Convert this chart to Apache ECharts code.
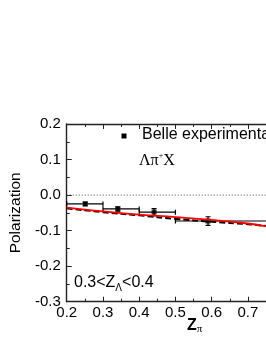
<!DOCTYPE html>
<html><head><meta charset="utf-8">
<script src="https://cdn.jsdelivr.net/npm/echarts@6/dist/echarts.min.js"></script>
<style>html,body{margin:0;padding:0;background:#fff}#c{width:266px;height:344px}</style>
</head><body><div id="c"></div>
<script>
// ---- data ----
const xTicks = [0.2, 0.3, 0.4, 0.5, 0.6, 0.7];
const yTicks = [-0.3, -0.2, -0.1, 0.0, 0.1, 0.2];
const belleX = [0.251, 0.341, 0.441, 0.59];
const belleY = [-0.025, -0.039, -0.048, -0.073];
const belleXLo = [0.2, 0.3, 0.4, 0.5];
const belleXHi = [0.3, 0.4, 0.5, 0.8];
const belleYErr = [0.005, 0.006, 0.010, 0.012];
const curveX = [0.2, 0.3, 0.4, 0.5, 0.6, 0.7, 0.75];
const redY = [-0.035, -0.046, -0.055, -0.062, -0.070, -0.080, -0.088];
const dashY = [-0.037, -0.048, -0.057, -0.067, -0.075, -0.082, -0.087];
const zeroX = [0.2, 0.75];
const zeroY = [0, 0];

const FONT = '"Liberation Sans", Arial, sans-serif';
const SERIF = '"Liberation Serif", "Times New Roman", serif';
const AX = '#222';

const chart = echarts.init(document.getElementById('c'), null, {renderer: 'canvas'});

const errData = belleX.map((x, i) => [x, belleY[i], belleXLo[i], belleXHi[i], belleYErr[i]]);
const pts = belleX.map((x, i) => [x, belleY[i]]);
const red = curveX.map((x, i) => [x, redY[i]]);
const dash = curveX.map((x, i) => [x, dashY[i]]);
const zero = zeroX.map((x, i) => [x, zeroY[i]]);

function renderErr(params, api) {
  const x = api.value(0), y = api.value(1), xl = api.value(2), xh = api.value(3), ye = api.value(4);
  const c = api.coord([x, y]);
  const pl = api.coord([xl, y]);
  const ph = api.coord([xh, y]);
  const yl = api.coord([x, y - ye]);
  const yh = api.coord([x, y + ye]);
  const cap = 2.5;
  const st = {stroke: '#000', lineWidth: 1.2};
  return {type: 'group', children: [
    {type: 'line', shape: {x1: pl[0], y1: c[1], x2: ph[0], y2: c[1]}, style: st},
    {type: 'line', shape: {x1: pl[0], y1: c[1] - cap, x2: pl[0], y2: c[1] + cap}, style: st},
    {type: 'line', shape: {x1: ph[0], y1: c[1] - cap, x2: ph[0], y2: c[1] + cap}, style: st},
    {type: 'line', shape: {x1: c[0], y1: yl[1], x2: c[0], y2: yh[1]}, style: st},
    {type: 'line', shape: {x1: c[0] - cap, y1: yl[1], x2: c[0] + cap, y2: yl[1]}, style: st},
    {type: 'line', shape: {x1: c[0] - cap, y1: yh[1], x2: c[0] + cap, y2: yh[1]}, style: st}
  ]};
}

const fmt = v => (Math.abs(v) < 1e-9 ? '0.0' : v.toFixed(1));
const axisCommon = {
  type: 'value',
  axisLine: {show: true, onZero: false, lineStyle: {color: AX, width: 1.4}},
  axisTick: {show: true, inside: true, length: 5, lineStyle: {color: AX, width: 1}},
  minorTick: {show: true, splitNumber: 2, length: 3, lineStyle: {color: AX, width: 1}},
  splitLine: {show: false},
  minorSplitLine: {show: false}
};

chart.setOption({
  animation: false,
  backgroundColor: '#fff',
  grid: {left: 64, top: 124, width: 204, height: 177.7, containLabel: false},
  xAxis: [
    Object.assign({}, axisCommon, {
      min: xTicks[0], max: 0.75, interval: 0.1, position: 'bottom',
      axisLabel: {fontSize: 15, color: '#000', fontFamily: FONT, margin: 4,
        formatter: fmt, showMaxLabel: false}
    }),
    Object.assign({}, axisCommon, {
      min: xTicks[0], max: 0.75, interval: 0.1, position: 'top',
      axisLabel: {show: false}
    })
  ],
  yAxis: [
    Object.assign({}, axisCommon, {
      min: yTicks[0], max: yTicks[yTicks.length - 1], interval: 0.1, position: 'left',
      axisLabel: {fontSize: 15, color: '#000', fontFamily: FONT, margin: 6, formatter: fmt},
      name: 'Polarization', nameLocation: 'middle', nameGap: 31,
      nameTextStyle: {fontSize: 15.5, color: '#000', fontFamily: FONT}
    })
  ],
  series: [
    {type: 'line', data: zero, symbol: 'none', silent: true,
      lineStyle: {color: '#444', width: 1, type: [1, 2]}},
    {type: 'line', data: dash, symbol: 'none', smooth: true, silent: true,
      lineStyle: {color: '#000', width: 2, type: [6, 3]}},
    {type: 'line', data: red, symbol: 'none', smooth: true, silent: true,
      lineStyle: {color: '#ff0000', width: 1.8}},
    {type: 'custom', data: errData, renderItem: renderErr, clip: true, silent: true},
    {name: 'Belle experimental data', type: 'scatter', data: pts, symbol: 'rect', symbolSize: 5,
      itemStyle: {color: '#000'}, silent: true}
  ],
  graphic: [
    {type: 'rect', shape: {x: 121.5, y: 133.5, width: 5, height: 5}, style: {fill: '#000'}},
    {type: 'text', left: 142, top: 127, style: {text: 'Belle experimental data',
      font: '16px ' + FONT, fill: '#000'}},
    {type: 'text', left: 139, top: 152, style: {
      text: '{a|Λπ}{s|+}{a|X}',
      rich: {
        a: {fontSize: 16, fontFamily: SERIF, lineHeight: 18, fill: '#000'},
        s: {fontSize: 8, fontFamily: SERIF, lineHeight: 10, verticalAlign: 'top', fill: '#000'}
      }}},
    {type: 'text', left: 74, top: 275, style: {
      text: '{a|0.3<Z}{b|Λ}{a|<0.4}',
      rich: {
        a: {fontSize: 16, fontFamily: FONT, lineHeight: 20, fill: '#000'},
        b: {fontSize: 10, fontFamily: FONT, lineHeight: 10, verticalAlign: 'bottom', fill: '#000'}
      }}},
    {type: 'text', left: 187, top: 318, style: {
      text: '{a|Z}{b|π}',
      rich: {
        a: {fontSize: 16, fontWeight: 'bold', fontFamily: FONT, lineHeight: 18, fill: '#000'},
        b: {fontSize: 11, fontFamily: SERIF, lineHeight: 10, verticalAlign: 'bottom', fill: '#000'}
      }}}
  ]
});
</script></body></html>
